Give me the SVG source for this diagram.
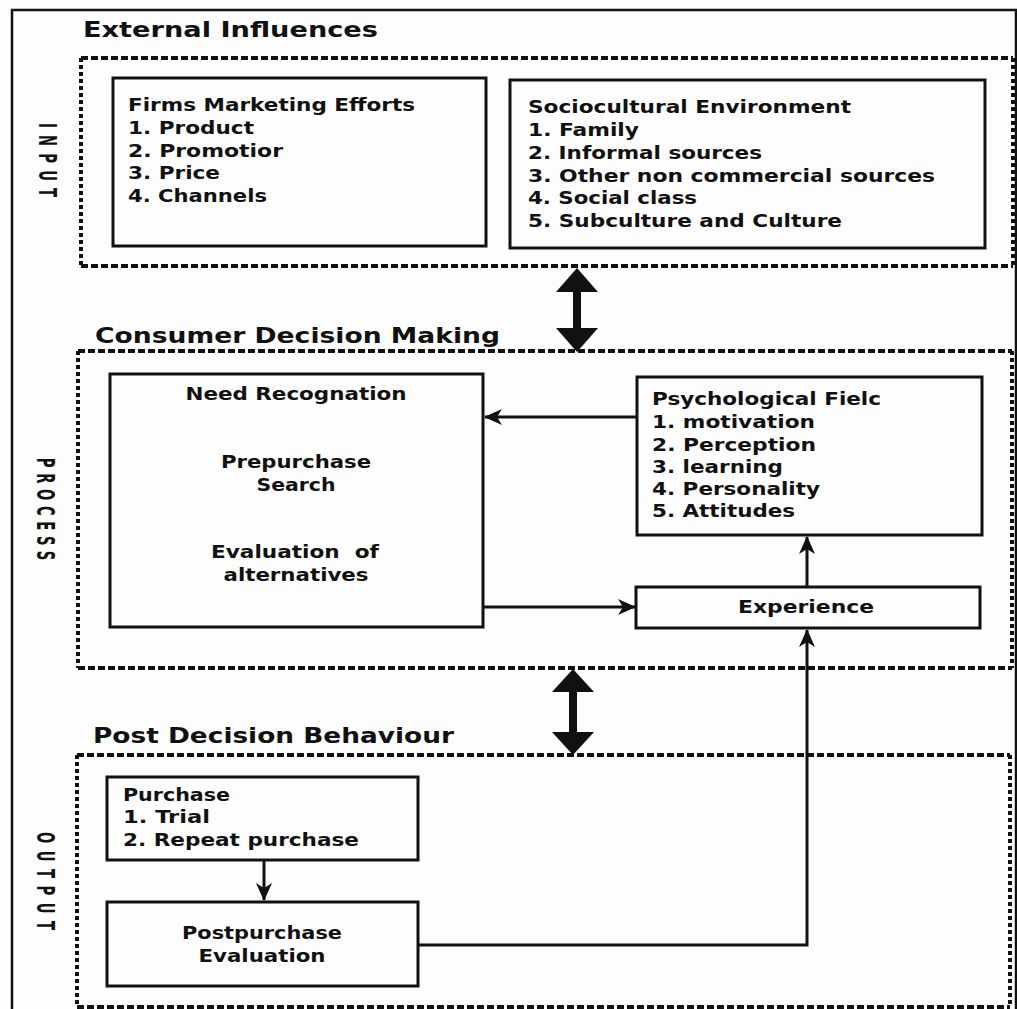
<svg xmlns="http://www.w3.org/2000/svg" width="1017" height="1009" viewBox="0 0 1017 1009">
  <defs>
    <marker id="head" viewBox="0 0 18 18" refX="17" refY="9" markerWidth="18" markerHeight="18" markerUnits="userSpaceOnUse" orient="auto">
      <path d="M0,1 L18,9 L0,17 L5,9 Z" fill="#111"/>
    </marker>
    <style>
      .frame { fill: none; stroke: #111; stroke-width: 2.5; }
      .zoneH { fill: none; stroke: #111; stroke-width: 4; stroke-dasharray: 7 3; }
      .zoneV { fill: none; stroke: #111; stroke-width: 4; stroke-dasharray: 4 3; }
      .box { fill: none; stroke: #111; stroke-width: 3; }
      .link { fill: none; stroke: #111; stroke-width: 3; }
      .big { fill: #111; }
      .title { font-family: "DejaVu Sans", Verdana, sans-serif; font-weight: bold; font-size: 21.5px; fill: #111; }
      .txt { font-family: "DejaVu Sans", Verdana, sans-serif; font-weight: bold; font-size: 18px; fill: #111; }
      .mid { text-anchor: middle; }
      .side { font-family: "DejaVu Sans", Verdana, sans-serif; font-weight: bold; font-size: 24px; fill: #111; text-anchor: middle; }
    </style>
  </defs>

  <rect width="1017" height="1009" fill="#fdfdfd"/>

  <!-- outer frame -->
  <path class="frame" d="M12,1012 L12,10 L1016,10 L1016,1012"/>

  <!-- INPUT zone -->
  <g id="zone-input">
    <text class="title" x="83" y="37" textLength="295" lengthAdjust="spacingAndGlyphs">External Influences</text>
    <path class="zoneH" d="M81,58 L1013,58 M81,266 L1013,266"/>
    <path class="zoneV" d="M81,58 L81,266 M1013,58 L1013,266"/>
    <text class="side" transform="translate(39,160) rotate(90) scale(0.55,1)" textLength="135">INPUT</text>
  </g>

  <g id="firms-marketing">
    <rect class="box" x="113" y="78" width="373" height="168"/>
    <text class="txt" x="128" y="111" textLength="287" lengthAdjust="spacingAndGlyphs">Firms Marketing Efforts</text>
    <text class="txt" x="128" y="134" textLength="126" lengthAdjust="spacingAndGlyphs">1. Product</text>
    <text class="txt" x="128" y="157" textLength="155" lengthAdjust="spacingAndGlyphs">2. Promotior</text>
    <text class="txt" x="128" y="179" textLength="92" lengthAdjust="spacingAndGlyphs">3. Price</text>
    <text class="txt" x="128" y="202" textLength="139" lengthAdjust="spacingAndGlyphs">4. Channels</text>
  </g>

  <g id="sociocultural">
    <rect class="box" x="510" y="80" width="475" height="168"/>
    <text class="txt" x="528" y="113" textLength="323" lengthAdjust="spacingAndGlyphs">Sociocultural Environment</text>
    <text class="txt" x="528" y="136" textLength="111" lengthAdjust="spacingAndGlyphs">1. Family</text>
    <text class="txt" x="528" y="159" textLength="234" lengthAdjust="spacingAndGlyphs">2. Informal sources</text>
    <text class="txt" x="528" y="182" textLength="407" lengthAdjust="spacingAndGlyphs">3. Other non commercial sources</text>
    <text class="txt" x="528" y="204" textLength="169" lengthAdjust="spacingAndGlyphs">4. Social class</text>
    <text class="txt" x="528" y="227" textLength="314" lengthAdjust="spacingAndGlyphs">5. Subculture and Culture</text>
  </g>

  <!-- PROCESS zone -->
  <g id="zone-process">
    <text class="title" x="95" y="343" textLength="405" lengthAdjust="spacingAndGlyphs">Consumer Decision Making</text>
    <path class="zoneH" d="M78,351 L1012,351 M78,668 L1012,668"/>
    <path class="zoneV" d="M78,351 L78,668 M1012,351 L1012,668"/>
    <text class="side" transform="translate(37,509) rotate(90) scale(0.55,1)" textLength="186">PROCESS</text>
  </g>

  <g id="decision-steps">
    <rect class="box" x="110" y="374" width="373" height="253"/>
    <text class="txt mid" x="296" y="400" textLength="221" lengthAdjust="spacingAndGlyphs">Need Recognation</text>
    <text class="txt mid" x="296" y="468" textLength="150" lengthAdjust="spacingAndGlyphs">Prepurchase</text>
    <text class="txt mid" x="296" y="491" textLength="79" lengthAdjust="spacingAndGlyphs">Search</text>
    <text class="txt mid" x="295" y="558" textLength="168" lengthAdjust="spacingAndGlyphs" style="white-space:pre">Evaluation  of</text>
    <text class="txt mid" x="296" y="581" textLength="145" lengthAdjust="spacingAndGlyphs">alternatives</text>
  </g>

  <g id="psychological-field">
    <rect class="box" x="637" y="377" width="345" height="158"/>
    <text class="txt" x="652" y="405" textLength="229" lengthAdjust="spacingAndGlyphs">Psychological Fielc</text>
    <text class="txt" x="652" y="428" textLength="163" lengthAdjust="spacingAndGlyphs">1. motivation</text>
    <text class="txt" x="652" y="451" textLength="164" lengthAdjust="spacingAndGlyphs">2. Perception</text>
    <text class="txt" x="652" y="473" textLength="131" lengthAdjust="spacingAndGlyphs">3. learning</text>
    <text class="txt" x="652" y="495" textLength="168" lengthAdjust="spacingAndGlyphs">4. Personality</text>
    <text class="txt" x="652" y="517" textLength="143" lengthAdjust="spacingAndGlyphs">5. Attitudes</text>
  </g>

  <g id="experience">
    <rect class="box" x="636" y="587" width="344" height="41"/>
    <text class="txt mid" x="806" y="613" textLength="136" lengthAdjust="spacingAndGlyphs">Experience</text>
  </g>

  <!-- OUTPUT zone -->
  <g id="zone-output">
    <text class="title" x="93" y="743" textLength="361" lengthAdjust="spacingAndGlyphs">Post Decision Behaviour</text>
    <path class="zoneH" d="M77,755 L1010,755 M77,1007 L1010,1007"/>
    <path class="zoneV" d="M77,755 L77,1007 M1010,755 L1010,1007"/>
    <text class="side" transform="translate(37,881) rotate(90) scale(0.55,1)" textLength="178">OUTPUT</text>
  </g>

  <g id="purchase">
    <rect class="box" x="107" y="777" width="311" height="83"/>
    <text class="txt" x="123" y="801" textLength="107" lengthAdjust="spacingAndGlyphs">Purchase</text>
    <text class="txt" x="123" y="823" textLength="87" lengthAdjust="spacingAndGlyphs">1. Trial</text>
    <text class="txt" x="123" y="846" textLength="236" lengthAdjust="spacingAndGlyphs">2. Repeat purchase</text>
  </g>

  <g id="postpurchase">
    <rect class="box" x="107" y="902" width="311" height="84"/>
    <text class="txt mid" x="262" y="939" textLength="160" lengthAdjust="spacingAndGlyphs">Postpurchase</text>
    <text class="txt mid" x="262" y="962" textLength="127" lengthAdjust="spacingAndGlyphs">Evaluation</text>
  </g>

  <!-- connectors -->
  <g id="connectors">
    <path class="big" d="M577,268 L598,292 L581,292 L581,328 L598,328 L577,352 L556,328 L573,328 L573,292 L556,292 Z"/>
    <path class="big" d="M573,669 L594,692 L577,692 L577,732 L594,732 L573,755 L552,732 L569,732 L569,692 L552,692 Z"/>
    <path class="link" d="M637,417 L485,417" marker-end="url(#head)"/>
    <path class="link" d="M483,607 L635,607" marker-end="url(#head)"/>
    <path class="link" d="M807,587 L807,537" marker-end="url(#head)"/>
    <path class="link" d="M418,945 L807,945 L807,630" marker-end="url(#head)"/>
    <path class="link" d="M264,860 L264,900" marker-end="url(#head)"/>
  </g>
</svg>
